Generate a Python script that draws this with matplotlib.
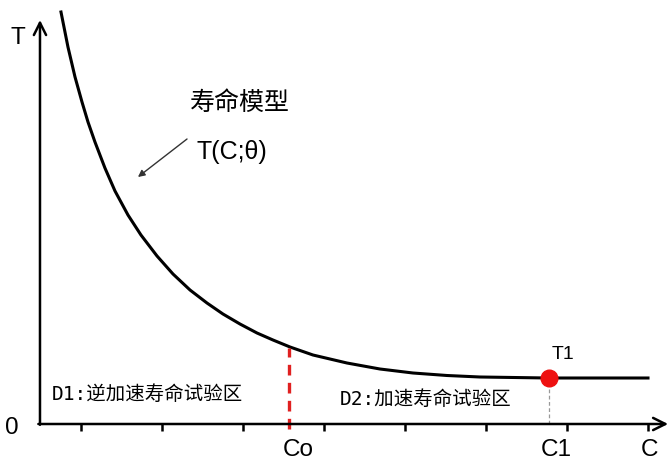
import matplotlib
matplotlib.use("Agg")
import matplotlib.pyplot as plt

plt.rcParams['font.family'] = ['Liberation Sans', 'Noto Sans CJK SC', 'DejaVu Sans']

# Curve T(C; theta) (x in tick units, y in arbitrary T units)
curve_c = [0.259, 0.345, 0.432, 0.518, 0.592, 0.678, 0.801, 0.925, 1.085, 1.245,
           1.443, 1.640, 1.850, 2.059, 2.256, 2.466, 2.676, 2.873, 3.083, 3.366,
           3.785, 4.192, 4.599, 5.019, 5.425, 6.264, 7.497]
curve_t = [10.30, 9.425, 8.675, 8.05, 7.55, 7.05, 6.40, 5.825, 5.225, 4.725,
           4.20, 3.75, 3.35, 3.025, 2.75, 2.50, 2.275, 2.10, 1.925, 1.725,
           1.525, 1.375, 1.275, 1.2125, 1.175, 1.15, 1.15]

tick_positions = [0.5, 1.5, 2.5, 3.5, 4.5, 5.5, 6.5, 7.5]
c0 = 3.07          # Co boundary
c0_t = 1.91        # curve height at Co
c1 = 6.276         # C1
t1 = 1.15          # T1 value

labels = {"Co": 3.18, "C1": 6.37, "C": 7.52}

fig = plt.figure(figsize=(6.69, 4.6), dpi=100)
ax = fig.add_axes([0, 0, 1, 1])
ax.set_xlim(-0.493, 7.756)
ax.set_ylim(-0.875, 10.625)
ax.axis('off')

# axes with arrows
ax.annotate('', xy=(0, 10.1), xytext=(0, -0.02),
            arrowprops=dict(arrowstyle='->', lw=1.8, color='black',
                            mutation_scale=22, shrinkA=0, shrinkB=0))
ax.annotate('', xy=(7.745, 0), xytext=(-0.02, 0),
            arrowprops=dict(arrowstyle='->', lw=1.8, color='black',
                            mutation_scale=22, shrinkA=0, shrinkB=0))

# ticks
ax.vlines(tick_positions, -0.18, 0, color='black', lw=1.8)

# curve
ax.plot(curve_c, curve_t, color='black', lw=2.2, solid_joinstyle='round')

# Co red dashed
ax.plot([c0, c0], [-0.12, c0_t], color='#e02020', lw=2.4, ls=(0, (3.2, 2.2)))

# C1 grey dashed
ax.plot([c1, c1], [0, t1], color='#999999', lw=0.9, ls=(0, (3, 2)))
ax.plot([c1], [t1], 'o', color='#ee1111', markersize=12, zorder=5)

# labels
ax.text(-0.271, 9.675, 'T', fontsize=17.5, ha='center', va='center')
ax.text(-0.345, -0.075, '0', fontsize=17.5, ha='center', va='center')
for name, xpos in labels.items():
    ax.text(xpos, -0.625, name, fontsize=17.5, ha='center', va='center')
ax.text(6.45, 1.75, 'T1', fontsize=14, ha='center', va='center')

ax.text(2.466, 8.05, '寿命模型', fontsize=18, ha='center', va='center',
        family=['Noto Sans CJK SC'])
ax.text(2.367, 6.825, 'T(C;θ)', fontsize=18, ha='center', va='center')
ax.annotate('', xy=(1.208, 6.175), xytext=(1.813, 7.125),
            arrowprops=dict(arrowstyle='-|>', lw=1.0, color='#333333',
                            mutation_scale=10, shrinkA=0, shrinkB=0))

ax.text(0.148, 0.75, 'D1:逆加速寿命试验区', fontsize=14, ha='left', va='center',
        family=['DejaVu Sans Mono', 'Noto Sans CJK SC'])
ax.text(3.699, 0.625, 'D2:加速寿命试验区', fontsize=14, ha='left', va='center',
        family=['DejaVu Sans Mono', 'Noto Sans CJK SC'])

fig.savefig('out.png', dpi=100)
